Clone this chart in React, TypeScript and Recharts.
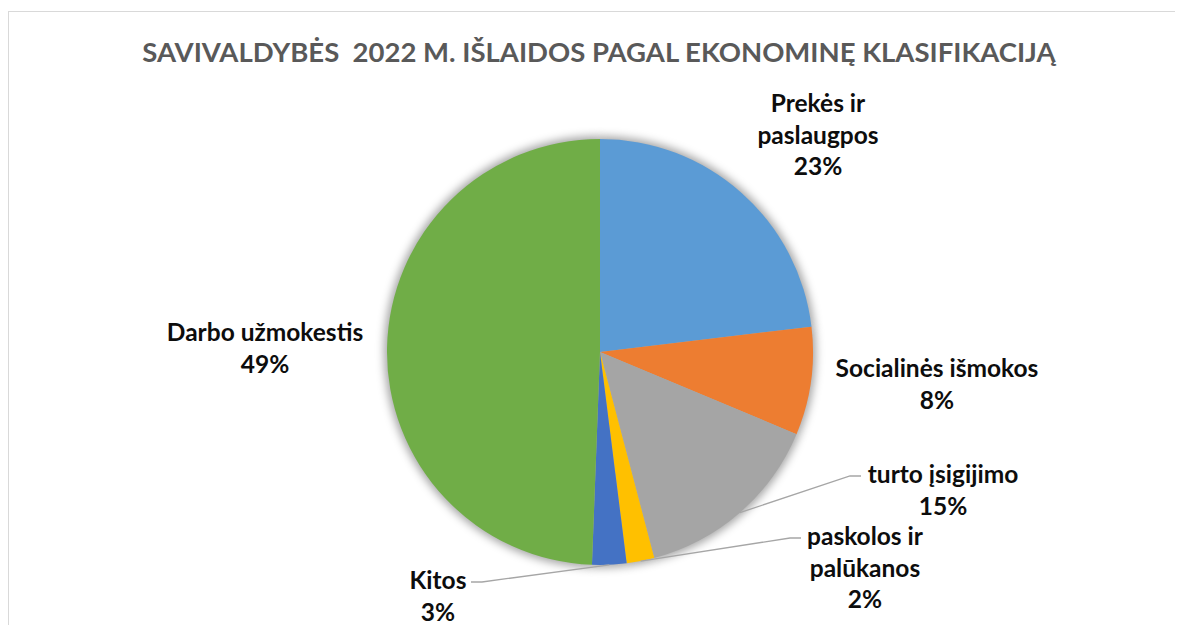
import { PieChart, Pie, Cell } from 'recharts'

const categories = [
  'Prekės ir paslaugpos',
  'Socialinės išmokos',
  'turto įsigijimo',
  'paskolos ir palūkanos',
  'Kitos',
  'Darbo užmokestis',
]
const shares = [23.1, 8.2, 14.6, 2.1, 2.6, 49.4]
const percentLabels = ['23%', '8%', '15%', '2%', '3%', '49%']
const labelLines = [
  ['Prekės ir', 'paslaugpos', '23%'],
  ['Socialinės išmokos', '8%'],
  ['turto įsigijimo', '15%'],
  ['paskolos ir', 'palūkanos', '2%'],
  ['Kitos', '3%'],
  ['Darbo užmokestis', '49%'],
]
const colors = ['#5B9BD5', '#ED7D31', '#A5A5A5', '#FFC000', '#4472C4', '#70AD47']

// label block placement relative to the pie centre (dx = text centre, dy = first baseline)
const labelPlacement = [
  { dx: 218, dy: -240, leader: false, side: 0 },
  { dx: 337, dy: 25, leader: false, side: 0 },
  { dx: 343, dy: 131, leader: true, side: -1 },
  { dx: 265, dy: 193, leader: true, side: -1 },
  { dx: -162, dy: 237, leader: true, side: 1 },
  { dx: -335, dy: -11, leader: false, side: 0 },
]
const halfWidths = [0, 0, 76, 58, 27, 0]

const data = categories.map((name, i) => ({ name, value: shares[i], pct: percentLabels[i] }))

const RAD = Math.PI / 180
const LINE_H = 31.5

function renderLabel(props: any) {
  const { cx, cy, midAngle, outerRadius, index } = props
  const p = labelPlacement[index]
  const x = cx + p.dx
  const y = cy + p.dy
  const lines = labelLines[index]
  let leader = null
  if (p.leader) {
    const ex = cx + outerRadius * Math.cos(-midAngle * RAD)
    const ey = cy + outerRadius * Math.sin(-midAngle * RAD)
    const endX = x + p.side * (halfWidths[index] + 6)
    const elbowX = endX + p.side * 11
    const ly = y - 7
    leader = (
      <polyline
        points={`${ex},${ey} ${elbowX},${ly} ${endX},${ly}`}
        fill="none"
        stroke="#A6A6A6"
        strokeWidth={1.3}
      />
    )
  }
  return (
    <g key={`lbl-${index}`}>
      {leader}
      <text
        x={x}
        y={y}
        textAnchor="middle"
        fill="#0D0D0D"
        fontFamily="Lato, 'Open Sans', sans-serif"
        fontWeight={700}
        fontSize={24.5}
      >
        {lines.map((t, i) => (
          <tspan key={i} x={x} dy={i === 0 ? 0 : LINE_H}>
            {t}
          </tspan>
        ))}
      </text>
    </g>
  )
}

export default function App() {
  return (
    <div style={{ position: 'relative', width: 1175, height: 617, overflow: 'hidden', background: '#fff' }}>
      <div
        style={{
          position: 'absolute',
          left: 0,
          top: 3,
          width: 1300,
          height: 800,
          border: '1.5px solid #D9D9D9',
          boxSizing: 'border-box',
        }}
      />
      <PieChart
        width={1175}
        height={617}
        margin={{ top: 0, right: 0, bottom: 0, left: 0 }}
        style={{ position: 'absolute', left: 0, top: 0 }}
      >
        <defs>
          <filter id="pieShadow" x="-20%" y="-20%" width="140%" height="140%">
            <feGaussianBlur stdDeviation="4" />
          </filter>
        </defs>
        <text
          x={591}
          y={54}
          textAnchor="middle"
          fill="#595959"
          fontFamily="Lato, 'Open Sans', sans-serif"
          fontWeight={700}
          fontSize={27.5}
        >
          {'SAVIVALDYBĖS\u00A0 2022 M. IŠLAIDOS PAGAL EKONOMINĘ KLASIFIKACIJĄ'}
        </text>
        <Pie
          data={data}
          dataKey="value"
          cx={592}
          cy={344}
          outerRadius={216}
          startAngle={90}
          endAngle={-270}
          stroke="none"
          fill="rgba(0,0,0,0.35)"
          isAnimationActive={false}
          style={{ filter: 'url(#pieShadow)' }}
          legendType="none"
        />
        <Pie
          data={data}
          dataKey="value"
          nameKey="name"
          cx={592}
          cy={344}
          outerRadius={213}
          startAngle={90}
          endAngle={-270}
          stroke="none"
          label={renderLabel}
          labelLine={false}
          isAnimationActive={false}
        >
          {data.map((d, i) => (
            <Cell key={d.name} fill={colors[i]} />
          ))}
        </Pie>
      </PieChart>
    </div>
  )
}
